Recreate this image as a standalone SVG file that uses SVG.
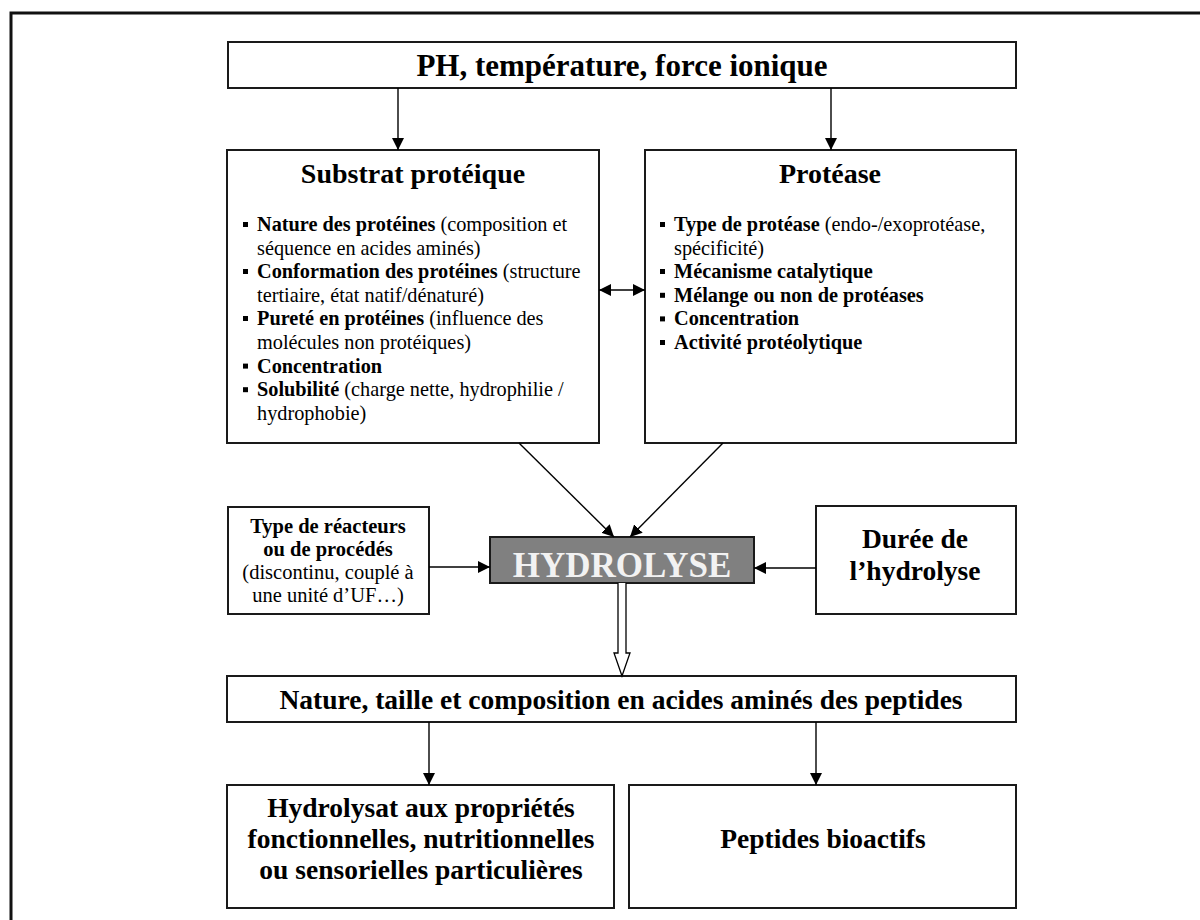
<svg xmlns="http://www.w3.org/2000/svg" width="1200" height="920" viewBox="0 0 1200 920">
<defs>
<marker id="ah" viewBox="0 0 12 12" refX="12" refY="6" markerWidth="12" markerHeight="12" markerUnits="userSpaceOnUse" orient="auto-start-reverse">
<path d="M0,0 L12,6 L0,12 Z" fill="#000"/>
</marker>
<style>
text{font-family:"Liberation Serif","Times New Roman",serif;fill:#000}
.box{fill:#fff;stroke:#1a1a1a;stroke-width:2}
.b{font-weight:bold}
.body{font-size:20.3px}
.ttl{font-size:28px;font-weight:bold}
.mid{text-anchor:middle}
.con{stroke:#000;stroke-width:1.4;fill:none}
.bul{fill:#000}
</style>
</defs>
<rect width="1200" height="920" fill="#fff"/>
<path d="M11,920 V13 H1200" fill="none" stroke="#111" stroke-width="3"/>

<g id="conditions">
<rect class="box" x="228" y="42" width="788" height="46"/>
<text class="b mid" x="622" y="76" font-size="31">PH, température, force ionique</text>
</g>

<g id="substrat">
<rect class="box" x="227" y="150" width="372" height="293"/>
<text class="ttl mid" x="413" y="183">Substrat protéique</text>
<g class="body">
<rect class="bul" x="243" y="222" width="5" height="5"/>
<text x="257" y="231"><tspan class="b">Nature des protéines</tspan> (composition et</text>
<text x="257" y="254.6">séquence en acides aminés)</text>
<rect class="bul" x="243" y="269" width="5" height="5"/>
<text x="257" y="278.2"><tspan class="b">Conformation des protéines</tspan> (structure</text>
<text x="257" y="301.8">tertiaire, état natif/dénaturé)</text>
<rect class="bul" x="243" y="316" width="5" height="5"/>
<text x="257" y="325.4"><tspan class="b">Pureté en protéines</tspan> (influence des</text>
<text x="257" y="349">molécules non protéiques)</text>
<rect class="bul" x="243" y="363.6" width="5" height="5"/>
<text x="257" y="372.6" class="b">Concentration</text>
<rect class="bul" x="243" y="387.2" width="5" height="5"/>
<text x="257" y="396.2"><tspan class="b">Solubilité</tspan> (charge nette, hydrophilie /</text>
<text x="257" y="419.8">hydrophobie)</text>
</g>
</g>

<g id="protease">
<rect class="box" x="645" y="150" width="371" height="293"/>
<text class="ttl mid" x="830" y="183">Protéase</text>
<g class="body">
<rect class="bul" x="660" y="222" width="5" height="5"/>
<text x="674" y="231"><tspan class="b">Type de protéase</tspan> (endo-/exoprotéase,</text>
<text x="674" y="254.6">spécificité)</text>
<rect class="bul" x="660" y="269" width="5" height="5"/>
<text x="674" y="278.2" class="b">Mécanisme catalytique</text>
<rect class="bul" x="660" y="292.8" width="5" height="5"/>
<text x="674" y="301.8" class="b">Mélange ou non de protéases</text>
<rect class="bul" x="660" y="316.4" width="5" height="5"/>
<text x="674" y="325.4" class="b">Concentration</text>
<rect class="bul" x="660" y="340" width="5" height="5"/>
<text x="674" y="349" class="b">Activité protéolytique</text>
</g>
</g>

<g id="reacteurs">
<rect class="box" x="228" y="507" width="201" height="107"/>
<text class="mid b" x="328" y="533" font-size="20.5">Type de réacteurs</text>
<text class="mid b" x="328" y="556" font-size="20.5">ou de procédés</text>
<text class="mid" x="328" y="579" font-size="20.5">(discontinu, couplé à</text>
<text class="mid" x="328" y="602" font-size="20.5">une unité d’UF…)</text>
</g>

<g id="hydrolyse">
<rect x="490" y="537" width="264" height="46" fill="#808080" stroke="#1a1a1a" stroke-width="2"/>
<text class="mid b" x="622" y="577" font-size="35" style="fill:#f2f2f2">HYDROLYSE</text>
</g>

<g id="duree">
<rect class="box" x="816" y="506" width="200" height="108"/>
<text class="mid b" x="915" y="548" font-size="27.5">Durée de</text>
<text class="mid b" x="915" y="580" font-size="27.5">l’hydrolyse</text>
</g>

<g id="peptides-nature">
<rect class="box" x="227" y="676" width="789" height="46"/>
<text class="mid b" x="621" y="709" font-size="27.5">Nature, taille et composition en acides aminés des peptides</text>
</g>

<g id="hydrolysat">
<rect class="box" x="227" y="785" width="387" height="123"/>
<text class="mid b" x="421" y="817" font-size="27.5">Hydrolysat aux propriétés</text>
<text class="mid b" x="421" y="848" font-size="27.5">fonctionnelles, nutritionnelles</text>
<text class="mid b" x="421" y="879" font-size="27.5">ou sensorielles particulières</text>
</g>

<g id="bioactifs">
<rect class="box" x="629" y="785" width="387" height="123"/>
<text class="mid b" x="823" y="848" font-size="27.5">Peptides bioactifs</text>
</g>

<g id="connectors">
<line class="con" x1="398" y1="88" x2="398" y2="150" marker-end="url(#ah)"/>
<line class="con" x1="831" y1="88" x2="831" y2="150" marker-end="url(#ah)"/>
<line class="con" x1="599" y1="290" x2="645" y2="290" marker-start="url(#ah)" marker-end="url(#ah)"/>
<line class="con" x1="519" y1="443" x2="614" y2="537" marker-end="url(#ah)"/>
<line class="con" x1="723" y1="443" x2="630" y2="537" marker-end="url(#ah)"/>
<line class="con" x1="429" y1="567" x2="490" y2="567" marker-end="url(#ah)"/>
<line class="con" x1="816" y1="568" x2="754" y2="568" marker-end="url(#ah)"/>
<path d="M618,583 V653 H614 L622,676 L630,653 H626 V583" fill="#fff" stroke="#000" stroke-width="1.3"/>
<line class="con" x1="429" y1="722" x2="429" y2="785" marker-end="url(#ah)"/>
<line class="con" x1="816" y1="722" x2="816" y2="785" marker-end="url(#ah)"/>
</g>
</svg>
